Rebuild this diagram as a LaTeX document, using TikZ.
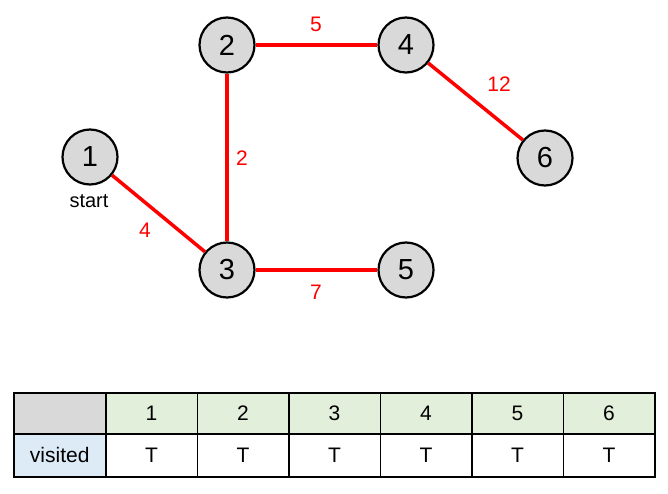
\documentclass[tikz,border=0pt]{standalone}
\usepackage{fontspec}
\setmainfont{Liberation Sans}
\definecolor{nodegray}{HTML}{D9D9D9}
\definecolor{hdrgreen}{HTML}{E2EFDA}
\definecolor{hdrblue}{HTML}{DDEBF7}
\definecolor{edgered}{HTML}{FF0000}
\begin{document}
\begin{tikzpicture}[x=1pt,y=-1pt,
  vertex/.style={circle,draw=black,line width=2.2pt,fill=nodegray,minimum size=55pt,inner sep=0pt,font=\fontsize{29}{31}\selectfont},
  edge/.style={draw=edgered,line width=3.5pt},
  wlabel/.style={text=edgered,font=\fontsize{21}{23}\selectfont},
  cell/.style={draw=black,line width=1.5pt,minimum height=41pt,inner sep=0pt,anchor=north west,font=\fontsize{21}{23}\selectfont}]
\useasboundingbox (0,0) rectangle (668,494);
\node[vertex] (n1) at (90,157) {1};
\node[vertex] (n2) at (227,45) {2};
\node[vertex] (n4) at (406,45) {4};
\node[vertex] (n6) at (545,158) {6};
\node[vertex] (n3) at (227,270) {3};
\node[vertex] (n5) at (406,270) {5};
\path[edge] (n2) -- (n4);
\path[edge] (n4) -- (n6);
\path[edge] (n2) -- (n3);
\path[edge] (n1) -- (n3);
\path[edge] (n3) -- (n5);
\node[font=\fontsize{20}{22}\selectfont] (st) at (89,201) {start};
\node[wlabel] (w5) at (316,24) {5};
\node[wlabel] (w12) at (499,84) {12};
\node[wlabel] (w2) at (242,158) {2};
\node[wlabel] (w4) at (145,230) {4};
\node[wlabel] (w7) at (316,292) {7};
% table
\node[cell,fill=nodegray,minimum width=92pt] (h0) at (13,392) {};
\node[cell,fill=hdrblue,minimum width=92pt,minimum height=43pt] (r0) at (13,433) {visited};
\foreach \i in {1,...,6}{
  \pgfmathsetmacro{\xx}{105+91.5*(\i-1)}
  \node[cell,fill=hdrgreen,minimum width=91.5pt] (h\i) at (\xx,392) {\i};
  \node[cell,fill=white,minimum width=91.5pt,minimum height=43pt] (r\i) at (\xx,433) {T};
}
\end{tikzpicture}
\end{document}
